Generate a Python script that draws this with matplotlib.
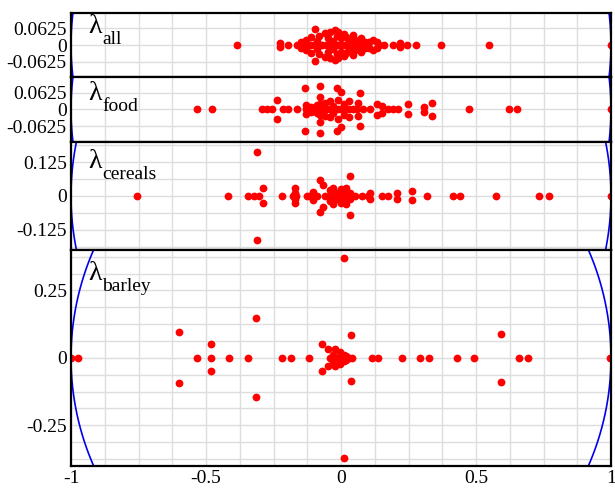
import numpy as np
import matplotlib
matplotlib.use('Agg')
import matplotlib.pyplot as plt

plt.rcParams['font.family'] = ['Liberation Serif', 'DejaVu Serif']

# ── Eigenwerte je Panel: reelle Werte + konjugierte Paare (Re, ±Im) ──────────
ALL_REAL = [-0.386, -0.195, -0.164, -0.145, -0.13, -0.115, -0.10, -0.085, -0.07,
            -0.055, -0.04, -0.025, -0.01, 0.0, 0.015, 0.03, 0.045, 0.06, 0.075,
            0.10, 0.14, 0.159, 0.191, 0.243, 0.277, 0.369, 0.548, 1.0]
ALL_PAIR_RE = [-0.226, -0.15, -0.13, -0.11, -0.096, -0.09, -0.08, -0.06, -0.05,
               -0.04, -0.03, -0.022, -0.015, -0.011, 0.0, 0.01, 0.02, 0.03,
               0.045, 0.05, 0.065, 0.075, 0.09, 0.105, 0.12, 0.135, 0.219]
ALL_PAIR_IM = [0.009, 0.012, 0.02, 0.03, 0.06, 0.015, 0.035, 0.045, 0.025,
               0.05, 0.015, 0.055, 0.035, 0.048, 0.025, 0.04, 0.03, 0.015,
               0.036, 0.02, 0.01, 0.025, 0.012, 0.012, 0.017, 0.01, 0.008]

FOOD_REAL = [-0.534, -0.479, -0.294, -0.275, -0.257, -0.214, -0.195, -0.164,
             -0.13, -0.115, -0.10, -0.085, -0.07, -0.055, -0.04, -0.025, -0.01,
             0.0, 0.015, 0.03, 0.045, 0.06, 0.08, 0.107, 0.174, 0.193, 0.211,
             0.474, 0.622, 0.651, 1.0]
FOOD_PAIR_RE = [-0.238, -0.133, -0.13, -0.11, -0.09, -0.078, -0.078, -0.078,
                -0.06, -0.04, -0.03, -0.016, -0.01, 0.0, 0.01, 0.03, 0.064,
                0.07, 0.132, 0.15, 0.247, 0.307, 0.338]
FOOD_PAIR_IM = [0.036, 0.081, 0.016, 0.01, 0.015, 0.088, 0.047, 0.02, 0.025,
                0.03, 0.012, 0.081, 0.035, 0.064, 0.02, 0.03, 0.023, 0.06,
                0.02, 0.012, 0.018, 0.01, 0.025]

CER_REAL = [-0.757, -0.417, -0.346, -0.321, -0.302, -0.22, -0.178, -0.165,
            -0.127, -0.115, -0.09, -0.06, -0.04, -0.025, -0.01, 0.0, 0.01,
            0.025, 0.04, 0.05, 0.077, 0.1, 0.15, 0.175, 0.32, 0.416, 0.441,
            0.573, 0.733, 0.77, 1.0]
CER_PAIR_RE = [-0.312, -0.288, -0.172, -0.17, -0.102, -0.078, -0.066, -0.04,
               -0.03, -0.015, 0.0, 0.01, 0.02, 0.033, 0.035, 0.107, 0.206, 0.262]
CER_PAIR_IM = [0.163, 0.028, 0.028, 0.012, 0.015, 0.06, 0.041, 0.02, 0.03,
               0.01, 0.025, 0.015, 0.03, 0.072, 0.012, 0.01, 0.01, 0.017]

BAR_REAL = [-1.0, -0.975, -0.534, -0.483, -0.413, -0.346, -0.22, -0.186, -0.119,
            -0.04, -0.03, -0.02, -0.01, 0.0, 0.01, 0.02, 0.03, 0.04, 0.114,
            0.136, 0.225, 0.293, 0.326, 0.431, 0.494, 0.659, 0.691, 0.995, 1.0]
BAR_PAIR_RE = [-0.599, -0.483, -0.315, -0.069, -0.049, -0.022, -0.004, -0.03,
               0.01, 0.02, 0.011, 0.036, 0.593]
BAR_PAIR_IM = [0.095, 0.05, 0.147, 0.05, 0.032, 0.032, 0.022, 0.01, 0.012,
               0.008, 0.372, 0.085, 0.089]

NAMEN = ['all', 'food', 'cereals', 'barley']
Y_MAX = [0.12, 0.12, 0.2, 0.4]
Y_TICKS = [0.0625, 0.0625, 0.125, 0.25]
Y_TICKLABELS = [['-0.0625', '0', '0.0625'], ['-0.0625', '0', '0.0625'],
                ['-0.125', '0', '0.125'], ['-0.25', '0', '0.25']]
X_TICKS = [-1, -0.5, 0, 0.5, 1]
X_TICKLABELS = ['-1', '-0.5', '0', '0.5', '1']

DATEN = [
    (ALL_REAL, ALL_PAIR_RE, ALL_PAIR_IM),
    (FOOD_REAL, FOOD_PAIR_RE, FOOD_PAIR_IM),
    (CER_REAL, CER_PAIR_RE, CER_PAIR_IM),
    (BAR_REAL, BAR_PAIR_RE, BAR_PAIR_IM),
]

# ── Layout in Pixeln (615 x 490) ─────────────────────────────────────────────
W, H = 615, 490
links, rechts = 71, 611
grenzen = [13, 77, 141.7, 250, 465.7]
lambda_basis = [20, 23, 26.5, 30]   # Grundlinie von λ unter Panel-Oberkante

fig = plt.figure(figsize=(W / 100, H / 100), dpi=100, facecolor='white')

theta = np.linspace(0, 2 * np.pi, 720)

for i, (name, (re_r, p_re, p_im)) in enumerate(zip(NAMEN, DATEN)):
    top, bot = grenzen[i], grenzen[i + 1]
    ax = fig.add_axes([links / W, 1 - bot / H, (rechts - links) / W, (bot - top) / H])

    ym = Y_MAX[i]
    ax.set_xlim(-1, 1)
    ax.set_ylim(-ym, ym)

    # Gitter
    for gx in np.arange(-1, 1.0001, 0.125):
        ax.axvline(gx, color='#dddddd', lw=1.0, zorder=0)
    for gy in np.arange(-0.375, 0.3751, 0.0625):
        ax.axhline(gy, color='#dddddd', lw=1.0, zorder=0)

    # Einheitskreis
    ax.plot(np.cos(theta), np.sin(theta), color='#0000ee', lw=1.2, zorder=2)

    # Eigenwerte
    xs = list(re_r) + list(p_re) + list(p_re)
    ys = [0.0] * len(re_r) + list(p_im) + [-v for v in p_im]
    ax.plot(xs, ys, 'o', color='#ff0000', ms=5.6, mec='none', zorder=3)

    t = Y_TICKS[i]
    ax.set_yticks([-t, 0, t])
    ax.set_yticklabels(Y_TICKLABELS[i], fontsize=14)
    ax.set_xticks(X_TICKS)
    if i == 3:
        ax.set_xticklabels(X_TICKLABELS, fontsize=14)
    else:
        ax.set_xticklabels([])
    ax.tick_params(length=0, pad=3)
    for sp in ax.spines.values():
        sp.set_linewidth(1.6)
        sp.set_zorder(5)

    # Beschriftung λ mit Index
    b = lambda_basis[i]
    ax.annotate('λ', xy=(0, 1), xycoords='axes fraction',
                xytext=(17, -b), textcoords='offset pixels',
                ha='left', va='baseline', fontsize=20)
    ax.annotate(name, xy=(0, 1), xycoords='axes fraction',
                xytext=(31, -b - 11), textcoords='offset pixels',
                ha='left', va='baseline', fontsize=14)

plt.savefig('out.png', dpi=100, facecolor='white')
